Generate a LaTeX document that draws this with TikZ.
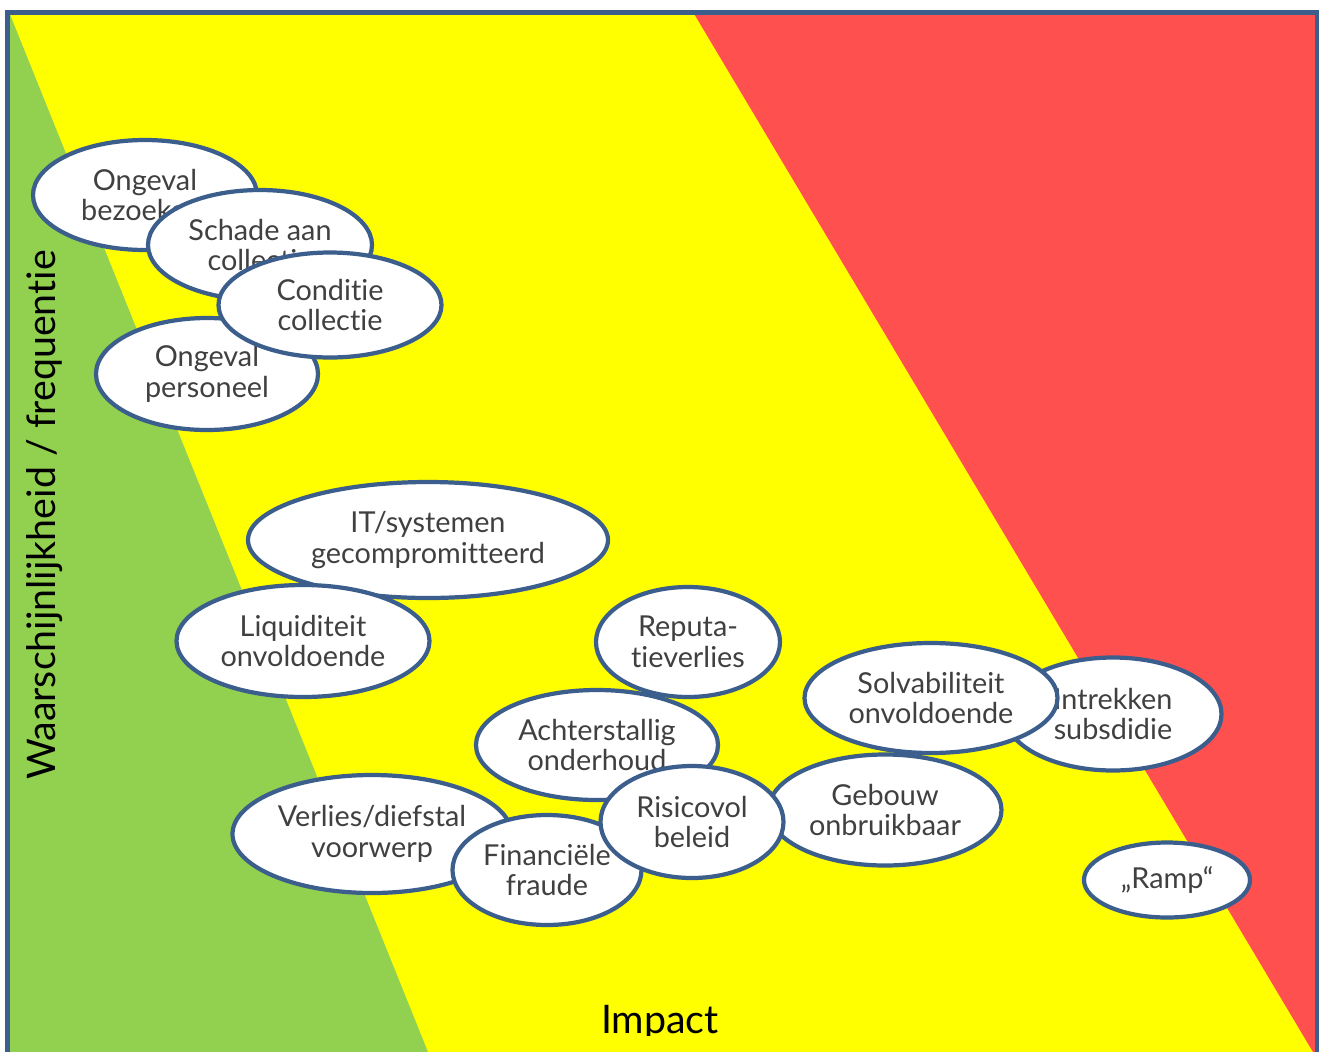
\documentclass[tikz,border=0pt]{standalone}
\usepackage{fontspec}
\setmainfont{Lato}[Ligatures=NoCommon]
\usetikzlibrary{shapes.geometric}
\definecolor{kaderblauw}{HTML}{3B5E8C}
\definecolor{groen}{HTML}{92D050}
\definecolor{geel}{HTML}{FFFF00}
\definecolor{rood}{HTML}{FF5050}
\definecolor{tekstgrijs}{HTML}{404040}
\begin{document}
\begin{tikzpicture}[x=0.1mm,y=-0.1mm,
    risico/.style={ellipse,draw=kaderblauw,line width=1.2pt,fill=white,inner sep=0pt,
      align=center,text=tekstgrijs,font=\fontsize{8.2}{8.7}\selectfont},
    maat/.style 2 args={minimum width=#1mm,minimum height=#2mm},
    as/.style={font=\fontsize{11.2}{13}\selectfont}]
    \useasboundingbox (0,0) rectangle (1320,1052) ;
    \fill[geel] (7,12) rectangle (1317,1052) ;
    \fill[groen] (9,12) -- (428,1052) -- (7,1052) -- (7,12) -- cycle ;
    \fill[rood] (693,12) -- (1317,12) -- (1317,1052) -- (1313,1052) -- cycle ;
    \draw[kaderblauw,line width=1.3pt] (7.5,1052) -- (7.5,12.5) -- (1317,12.5) -- (1317,1052) ;
    \node[as,rotate=90] (kans) at (45,515) {Waarschijnlijkheid / frequentie} ;
    \begin{scope}
      \clip (0,0) rectangle (1320,1035) ;
      \node[as,anchor=base] (impact) at (660,1033) {Impact} ;
    \end{scope}
    \node[risico,maat={22.4}{11}] (bezoekers) at (145,195) {Ongeval\\bezoekers} ;
    \node[risico,maat={22.4}{11}] (schade) at (260,245) {Schade aan\\collectie} ;
    \node[risico,maat={22.2}{11.2}] (personeel) at (207,374) {Ongeval\\personeel} ;
    \node[risico,maat={22.3}{10.5}] (conditie) at (330,305) {Conditie\\collectie} ;
    \node[risico,maat={36}{11.6}] (it) at (428,540) {IT/systemen\\gecompromitteerd} ;
    \node[risico,maat={25.3}{11.2}] (liquiditeit) at (303,641) {Liquiditeit\\onvoldoende} ;
    \node[risico,maat={18.4}{11}] (reputatie) at (688,642) {Reputa-\\tieverlies} ;
    \node[risico,maat={24.2}{11}] (achterstallig) at (597,745) {Achterstallig\\onderhoud} ;
    \node[risico,maat={27.9}{11.8}] (verlies) at (372,834) {Verlies/diefstal\\voorwerp} ;
    \node[risico,maat={18.9}{11}] (fraude) at (547,870) {Financiële\\fraude} ;
    \node[risico,maat={23.3}{11.1}] (gebouw) at (885,810) {Gebouw\\onbruikbaar} ;
    \node[risico,maat={18.3}{11.2}] (beleid) at (692,822) {Risicovol\\beleid} ;
    \node[risico,maat={21.7}{11.3}] (subsidie) at (1113,714) {Intrekken\\subsdidie} ;
    \node[risico,maat={25.3}{11}] (solvabiliteit) at (931,698) {Solvabiliteit\\onvoldoende} ;
    \node[risico,maat={16.6}{7.5}] (ramp) at (1167,880) {„Ramp“} ;
  \end{tikzpicture}
\end{document}
